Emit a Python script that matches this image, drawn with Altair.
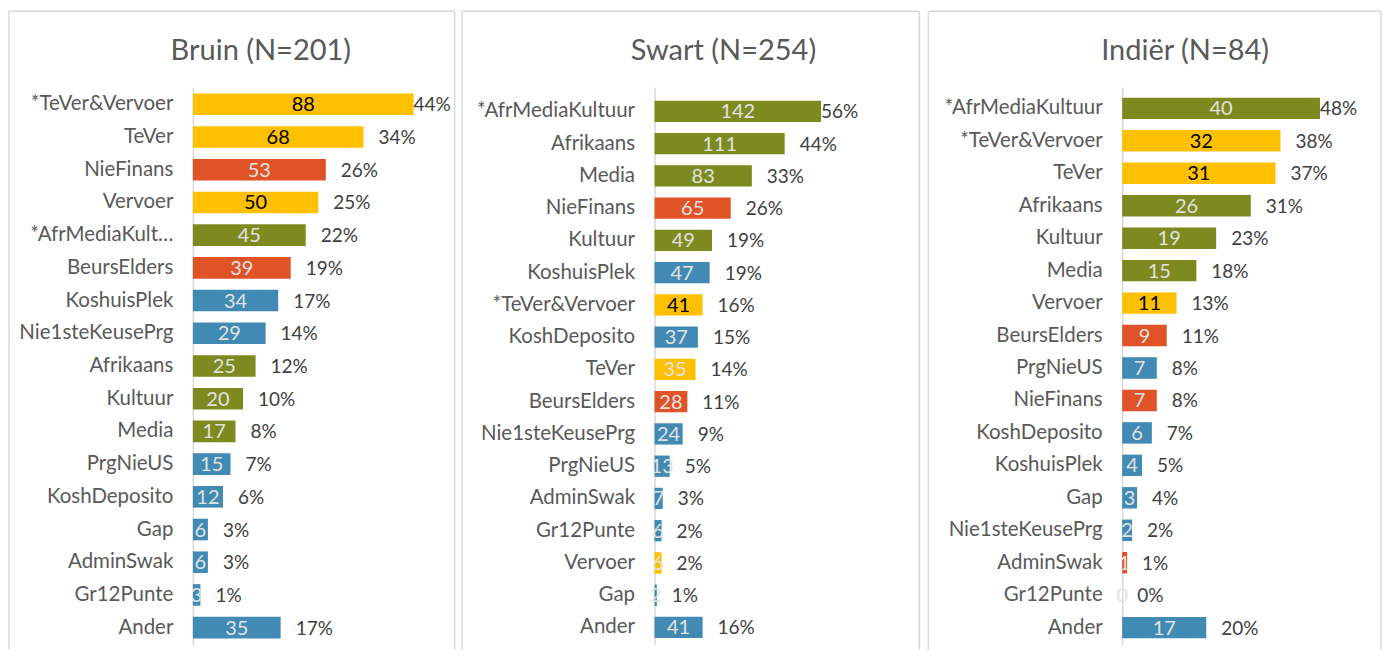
import altair as alt
import pandas as pd

# ---------------- data ----------------
bruin_title = "Bruin (N=201)"
bruin_cat = ["*TeVer&Vervoer", "TeVer", "NieFinans", "Vervoer", "*AfrMediaKultuur",
             "BeursElders", "KoshuisPlek", "Nie1steKeusePrg", "Afrikaans", "Kultuur",
             "Media", "PrgNieUS", "KoshDeposito", "Gap", "AdminSwak", "Gr12Punte", "Ander"]
bruin_n = [88, 68, 53, 50, 45, 39, 34, 29, 25, 20, 17, 15, 12, 6, 6, 3, 35]
bruin_pct = [44, 34, 26, 25, 22, 19, 17, 14, 12, 10, 8, 7, 6, 3, 3, 1, 17]
bruin_theme = ["Vervoer", "Vervoer", "Finansies", "Vervoer", "Taal", "Finansies", "Akademies",
               "Akademies", "Taal", "Taal", "Taal", "Akademies", "Akademies", "Akademies",
               "Akademies", "Akademies", "Akademies"]
bruin_dark = ["*TeVer&Vervoer", "TeVer", "Vervoer"]

swart_title = "Swart (N=254)"
swart_cat = ["*AfrMediaKultuur", "Afrikaans", "Media", "NieFinans", "Kultuur", "KoshuisPlek",
             "*TeVer&Vervoer", "KoshDeposito", "TeVer", "BeursElders", "Nie1steKeusePrg",
             "PrgNieUS", "AdminSwak", "Gr12Punte", "Vervoer", "Gap", "Ander"]
swart_n = [142, 111, 83, 65, 49, 47, 41, 37, 35, 28, 24, 13, 7, 6, 6, 2, 41]
swart_pct = [56, 44, 33, 26, 19, 19, 16, 15, 14, 11, 9, 5, 3, 2, 2, 1, 16]
swart_theme = ["Taal", "Taal", "Taal", "Finansies", "Taal", "Akademies", "Vervoer",
               "Akademies", "Vervoer", "Finansies", "Akademies", "Akademies", "Akademies",
               "Akademies", "Vervoer", "Akademies", "Akademies"]
swart_dark = ["*TeVer&Vervoer"]

indier_title = "Indiër (N=84)"
indier_cat = ["*AfrMediaKultuur", "*TeVer&Vervoer", "TeVer", "Afrikaans", "Kultuur", "Media",
              "Vervoer", "BeursElders", "PrgNieUS", "NieFinans", "KoshDeposito", "KoshuisPlek",
              "Gap", "Nie1steKeusePrg", "AdminSwak", "Gr12Punte", "Ander"]
indier_n = [40, 32, 31, 26, 19, 15, 11, 9, 7, 7, 6, 4, 3, 2, 1, 0, 17]
indier_pct = [48, 38, 37, 31, 23, 18, 13, 11, 8, 8, 7, 5, 4, 2, 1, 0, 20]
indier_theme = ["Taal", "Vervoer", "Vervoer", "Taal", "Taal", "Taal", "Vervoer", "Finansies",
                "Akademies", "Finansies", "Akademies", "Akademies", "Akademies", "Akademies",
                "Finansies", "Akademies", "Akademies"]
indier_dark = ["*TeVer&Vervoer", "TeVer", "Vervoer"]

theme_domain = ["Vervoer", "Finansies", "Taal", "Akademies"]
theme_colors = ["#FFC000", "#DF5327", "#7D8A1F", "#418AB3"]

FONT = "Lato"
H = 558
BOX = "#D9D9D9"


def panel(title, cats, n, pct, theme, dark, W, dmax, box_l, box_r, title_x,
          p_outer, p_align, label_expr=None):
    df = pd.DataFrame({
        "cat": cats, "n": n, "pct": pct, "theme": theme,
        "dark": [1 if c in dark else 0 for c in cats],
    })
    axis_kw = dict(title=None, ticks=False, domainColor=BOX, domainWidth=1.5,
                   labelFont=FONT, labelFontSize=20.5, labelColor="#595959",
                   labelPadding=20, labelLimit=300)
    if label_expr:
        axis_kw["labelExpr"] = label_expr
    y = alt.Y("cat:N", sort=cats, axis=alt.Axis(**axis_kw),
              scale=alt.Scale(paddingInner=0.34, paddingOuter=p_outer, align=p_align))
    xs = alt.Scale(domain=[0, dmax], nice=False, zero=True)

    base = alt.Chart(df).transform_calculate(
        mid="datum.n / 2", plab="datum.pct + '%'"
    ).transform_joinaggregate(mx="max(n)")

    bars = base.mark_bar().encode(
        x=alt.X("n:Q", scale=xs, axis=None),
        y=y,
        color=alt.Color("theme:N", scale=alt.Scale(domain=theme_domain, range=theme_colors),
                        legend=None),
    )
    vals = base.mark_text(font=FONT, fontSize=20, baseline="middle", dy=1).encode(
        x=alt.X("mid:Q", scale=xs, axis=None),
        y=y,
        text="n:Q",
        color=alt.condition("datum.dark == 1", alt.value("#000000"), alt.value("#E2E2E2")),
    )
    pcts = base.transform_filter("datum.n < datum.mx").mark_text(
        font=FONT, fontSize=19, align="left", baseline="middle", dx=15, dy=1,
        color="#404040").encode(
        x=alt.X("n:Q", scale=xs, axis=None), y=y, text="plab:N")
    pmax = base.transform_filter("datum.n == datum.mx").mark_text(
        font=FONT, fontSize=19, align="left", baseline="middle", dx=0, dy=1,
        color="#404040").encode(
        x=alt.X("n:Q", scale=xs, axis=None), y=y, text="plab:N")

    one = alt.Data(values=[{}])
    top = alt.Chart(one).mark_rule(color=BOX, strokeWidth=1.5).encode(
        x=alt.value(box_l), x2=alt.value(box_r), y=alt.value(-76))
    left = alt.Chart(one).mark_rule(color=BOX, strokeWidth=1.5).encode(
        x=alt.value(box_l), y=alt.value(-76), y2=alt.value(H + 5))
    right = alt.Chart(one).mark_rule(color=BOX, strokeWidth=1.5).encode(
        x=alt.value(box_r), y=alt.value(-76), y2=alt.value(H + 5))
    ttl = alt.Chart(one).mark_text(font=FONT, fontSize=29, color="#595959",
                                   baseline="middle", align="center").encode(
        x=alt.value(title_x), y=alt.value(-36), text=alt.value(title))

    return alt.layer(top, left, right, ttl, bars, vals, pcts, pmax).properties(
        width=W, height=H)


p1 = panel(bruin_title, bruin_cat, bruin_n, bruin_pct, bruin_theme, bruin_dark,
           251, 100, -184, 262, 68, 0.194, 0.5,
           label_expr="datum.label == '*AfrMediaKultuur' ? truncate(datum.label, 14) : datum.label")
p2 = panel(swart_title, swart_cat, swart_n, swart_pct, swart_theme, swart_dark,
           257, 219, -192.5, 265, 69, 0.313, 0.67)
p3 = panel(indier_title, indier_cat, indier_n, indier_pct, indier_theme, indier_dark,
           240, 48.5, -194, 259, 63, 0.26, 0.62)

chart = alt.hconcat(p1, p2, p3, spacing=211, bounds="flush").properties(
    padding={"left": 0, "top": 2, "right": 0, "bottom": 0}
).configure_view(stroke=None)

chart.save("out.html", embed_options={"renderer": "svg", "actions": False})
